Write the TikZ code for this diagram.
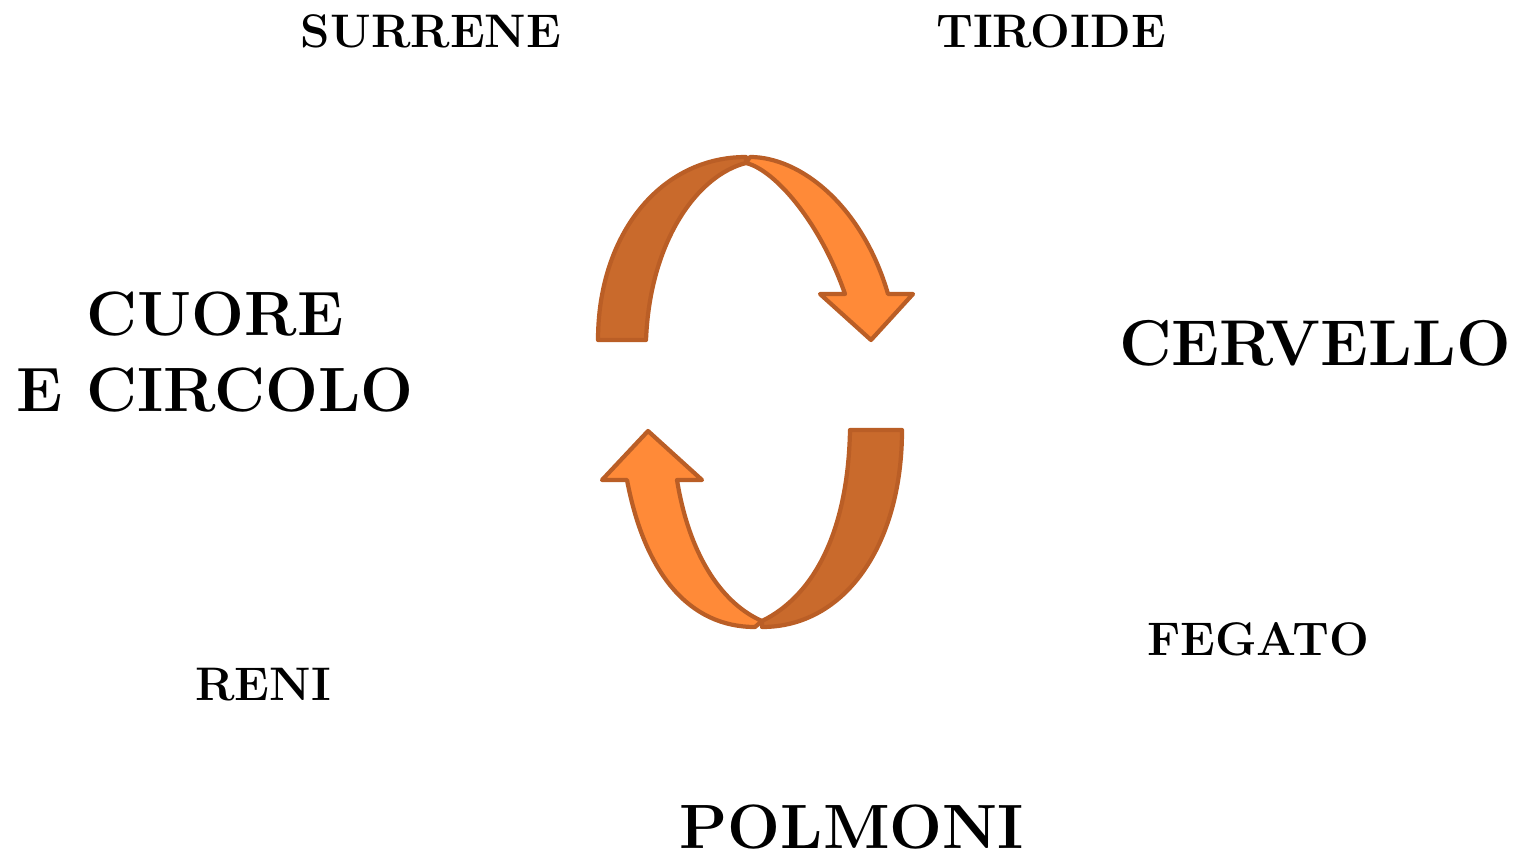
\documentclass[tikz,border=0pt]{standalone}
\definecolor{scuro}{RGB}{201,106,44}
\definecolor{chiaro}{RGB}{255,138,56}
\definecolor{bordo}{RGB}{186,94,38}
\begin{document}
\begin{tikzpicture}[x=0.01cm,y=-0.01cm,
  organo/.style={anchor=base,font=\fontsize{13.4}{15}\selectfont\bfseries},
  grande/.style={font=\fontsize{17.8}{21.6}\selectfont\bfseries},
  fascia/.style={draw=bordo,line width=1.2pt,line join=round}]
\useasboundingbox (0,0) rectangle (1516,855);
%Organi piccoli
\node[organo] (surrene) at (431,48) {SURRENE};
\node[organo] (tiroide) at (1051,48) {TIROIDE};
\node[organo] (fegato) at (1258,655) {FEGATO};
\node[organo] (reni) at (263,700) {RENI};
%Organi grandi
\node[grande,align=center] (cuore) at (215,352) {CUORE\\E CIRCOLO};
\node[grande,anchor=base,font=\fontsize{18.4}{21.6}\selectfont\bfseries] (cervello) at (1315,366) {CERVELLO};
\node[grande,anchor=base] (polmoni) at (852,848) {POLMONI};
%Freccia alta, parte dietro
\fill[fascia,fill=scuro] (598,340) .. controls (598,235) and (660,157) .. (746,157)
  -- (746,163) .. controls (698,175) and (650,240) .. (646,340) -- cycle;
%Freccia alta, parte davanti
\fill[fascia,fill=chiaro] (746,163) -- (750,157) .. controls (800,157) and (862,205) .. (888,294)
  -- (913,294) -- (871,340) -- (820,294) -- (845,294)
  .. controls (820,222) and (775,170) .. (746,163) -- cycle;
%Freccia bassa, parte dietro
\fill[fascia,fill=scuro] (850,430) -- (902,430) .. controls (902,545) and (845,627) .. (762,627)
  -- (762,621) .. controls (815,595) and (848,530) .. (850,430) -- cycle;
%Freccia bassa, parte davanti
\fill[fascia,fill=chiaro] (648,431) -- (702,480) -- (677,480)
  .. controls (690,560) and (725,605) .. (762,621) -- (755,627)
  .. controls (690,627) and (645,575) .. (627,480) -- (602,480) -- cycle;
\end{tikzpicture}
\end{document}
